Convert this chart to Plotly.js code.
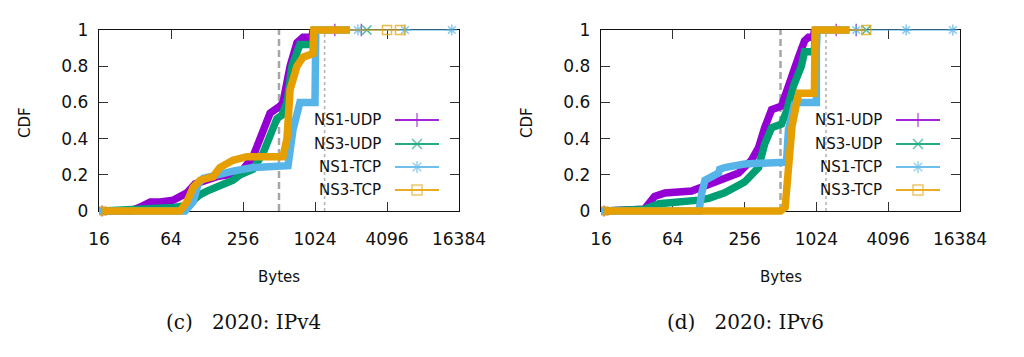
<!DOCTYPE html>
<html><head><meta charset="utf-8">
<script src="https://cdn.plot.ly/plotly-3.0.1.min.js"></script>
<style>html,body{margin:0;padding:0;background:#fff}#chart{width:1024px;height:357px}</style>
</head><body><div id="chart"></div>
<script>
// ---------- data ----------
const seriesNames = ['NS1-UDP', 'NS3-UDP', 'NS1-TCP', 'NS3-TCP'];
const tickVals = [16, 64, 256, 1024, 4096, 16384];
const tickText = ['16', '64', '256', '1024', '4096', '16384'];
const cdfTicks = [0, 0.2, 0.4, 0.6, 0.8, 1];
const cdfTickText = ['0', '0.2', '0.4', '0.6', '0.8', '1'];
const refDashed = 512;
const refDotted = 1232;
const panelCaptions = ['(c)\u00a0\u00a0 2020: IPv4', '(d)\u00a0\u00a0 2020: IPv6'];
const xLabel = 'Bytes';
const yLabel = 'CDF';

// 2020 IPv4
const ns1Udp4X = [17, 29, 35, 43, 52, 67, 87, 102, 155, 242, 310, 377, 431, 522, 553, 634, 724, 814, 967, 985];
const ns1Udp4Y = [0, 0, 0.02, 0.05, 0.05, 0.06, 0.1, 0.15, 0.19, 0.21, 0.3, 0.46, 0.54, 0.58, 0.6, 0.8, 0.93, 0.96, 0.96, 1];
const ns1Udp4Tail = [1500, 2500];
const ns3Udp4X = [17, 43, 67, 87, 98, 112, 128, 164, 211, 242, 310, 377, 431, 492, 542, 597, 657, 766, 985, 1000];
const ns3Udp4Y = [0, 0.01, 0.02, 0.03, 0.06, 0.09, 0.11, 0.14, 0.17, 0.2, 0.23, 0.32, 0.43, 0.51, 0.53, 0.6, 0.8, 0.92, 0.92, 1];
const ns3Udp4Tail = [2780];
const ns1Tcp4X = [16, 84, 98, 108, 119, 155, 211, 310, 609, 671, 739, 766, 1024, 1024, 1040, 2006];
const ns1Tcp4Y = [0, 0, 0.05, 0.15, 0.18, 0.2, 0.22, 0.24, 0.25, 0.45, 0.58, 0.6, 0.6, 0.86, 1, 1];
const ns1Tcp4Tail = [2340, 5790, 14260];
const ns3Tcp4X = [17, 76, 87, 98, 112, 144, 164, 211, 276, 553, 597, 634, 724, 814, 985, 1000, 2006];
const ns3Tcp4Y = [0, 0, 0.05, 0.13, 0.17, 0.19, 0.24, 0.28, 0.3, 0.3, 0.4, 0.67, 0.8, 0.85, 0.87, 1, 1];
const ns3Tcp4Tail = [4096, 5260];

// 2020 IPv6
const ns1Udp6X = [17, 30, 37, 45, 55, 92, 112, 155, 228, 292, 335, 377, 431, 522, 575, 634, 724, 814, 878, 967, 985];
const ns1Udp6Y = [0, 0, 0.01, 0.08, 0.1, 0.11, 0.13, 0.17, 0.21, 0.28, 0.35, 0.46, 0.56, 0.58, 0.65, 0.74, 0.85, 0.94, 0.96, 0.96, 1];
const ns1Udp6Tail = [1500, 2210];
const ns3Udp6X = [17, 37, 49, 92, 106, 128, 174, 256, 335, 377, 431, 522, 575, 657, 766, 814, 985, 1000];
const ns3Udp6Y = [0, 0.01, 0.04, 0.05, 0.06, 0.07, 0.1, 0.16, 0.24, 0.37, 0.46, 0.48, 0.55, 0.69, 0.8, 0.88, 0.88, 1];
const ns3Udp6Tail = [2680];
const ns1Tcp6X = [16, 106, 112, 119, 136, 155, 158, 174, 256, 575, 597, 634, 671, 724, 1024, 1024, 1040, 1940];
const ns1Tcp6Y = [0, 0, 0.1, 0.17, 0.19, 0.21, 0.23, 0.24, 0.26, 0.27, 0.45, 0.55, 0.59, 0.6, 0.6, 0.9, 1, 1];
const ns1Tcp6Tail = [2210, 5790, 14260];
const ns3Tcp6X = [17, 512, 560, 590, 640, 700, 730, 985, 1000, 1940];
const ns3Tcp6Y = [0, 0, 0.02, 0.25, 0.47, 0.6, 0.65, 0.65, 1, 1];
const ns3Tcp6Tail = [2680];

// ---------- styling / layout ----------
const W = 1024, H = 357;
const colors = ['#9400d3', '#009e73', '#56b4e9', '#e69f00'];
const symbols = ['cross-thin', 'x-thin', 'asterisk', 'square-open'];
const plotTop = 30, plotBot = 211, pad = 8;
const panels = [
  {fx: 'x', fy: 'y', ya: 'y3', left: 99, right: 459, cdfX: 25, capX: 243,
   series: [[ns1Udp4X, ns1Udp4Y, ns1Udp4Tail], [ns3Udp4X, ns3Udp4Y, ns3Udp4Tail], [ns1Tcp4X, ns1Tcp4Y, ns1Tcp4Tail], [ns3Tcp4X, ns3Tcp4Y, ns3Tcp4Tail]]},
  {fx: 'x2', fy: 'y2', ya: 'y4', left: 601, right: 960, cdfX: 527, capX: 745,
   series: [[ns1Udp6X, ns1Udp6Y, ns1Udp6Tail], [ns3Udp6X, ns3Udp6Y, ns3Udp6Tail], [ns1Tcp6X, ns1Tcp6Y, ns1Tcp6Tail], [ns3Tcp6X, ns3Tcp6Y, ns3Tcp6Tail]]}
];
const legendRows = [120, 144, 167, 190];

const traces = [];
const annotations = [];
panels.forEach((p, pi) => {
  const yr = [cdfTicks[0], cdfTicks[cdfTicks.length - 1]];
  // reference lines live on the frame subplot (this also creates the framed axes)
  traces.push({x: [refDashed, refDashed], y: yr, xaxis: p.fx, yaxis: p.fy, mode: 'lines',
    line: {color: '#a6a6a6', width: 2.5, dash: '7px,4px'}, showlegend: false, hoverinfo: 'skip'});
  traces.push({x: [refDotted, refDotted], y: yr, xaxis: p.fx, yaxis: p.fy, mode: 'lines',
    line: {color: '#b4b4b4', width: 1.6, dash: 'dot'}, showlegend: false, hoverinfo: 'skip'});
  p.series.forEach((s, si) => {
    const [xs, ys, tail] = s;
    traces.push({x: xs, y: ys, xaxis: p.fx, yaxis: p.ya, mode: 'lines+markers', name: seriesNames[si],
      line: {color: colors[si], width: 7.5},
      marker: {symbol: symbols[si], color: colors[si], size: xs.map((v, i) => i === 0 ? 8 : 0),
               line: {color: colors[si], width: 1.5}},
      showlegend: false});
    const tx = [xs[xs.length - 1]].concat(tail);
    traces.push({x: tx, y: tx.map(() => 1), xaxis: p.fx, yaxis: p.ya, mode: 'lines+markers',
      line: {color: colors[si], width: 1.2},
      marker: {symbol: symbols[si], color: colors[si], size: tx.map((v, i) => i === 0 ? 0 : 9),
               line: {color: colors[si], width: 1.5}},
      showlegend: false, cliponaxis: false});
    // legend sample (gnuplot style: text then sample)
    const lx0 = p.right - 64, lx1 = p.right - 20, row = legendRows[si];
    traces.push({x: [lx0, (lx0 + lx1) / 2, lx1], y: [row, row, row], xaxis: 'x5', yaxis: 'y5',
      mode: 'lines+markers', line: {color: colors[si], width: 1.8},
      marker: {symbol: symbols[si], color: colors[si], size: [0, 10, 0], line: {color: colors[si], width: 1.5}},
      showlegend: false, opacity: 0.85});
    annotations.push({xref: 'paper', yref: 'paper', x: (lx0 - 12) / W, y: 1 - row / H,
      xanchor: 'right', yanchor: 'middle', showarrow: false, text: seriesNames[si],
      font: {family: 'DejaVu Sans', size: 15, color: '#111'}});
  });
  annotations.push({xref: 'paper', yref: 'paper', x: p.cdfX / W, y: 1 - 123 / H, textangle: -90,
    xanchor: 'center', yanchor: 'middle', showarrow: false, text: yLabel,
    font: {family: 'DejaVu Sans', size: 15, color: '#111'}});
  annotations.push({xref: 'paper', yref: 'paper', x: ((p.left + p.right) / 2) / W, y: 1 - 277 / H,
    xanchor: 'center', yanchor: 'middle', showarrow: false, text: xLabel,
    font: {family: 'DejaVu Sans', size: 15, color: '#111'}});
  annotations.push({xref: 'paper', yref: 'paper', x: p.capX / W, y: 1 - 322 / H,
    xanchor: 'center', yanchor: 'middle', showarrow: false, text: panelCaptions[pi],
    font: {family: 'DejaVu Serif', size: 20, color: '#111'}});
});

const frameY = [(H - plotBot) / H, (H - plotTop) / H];
const dataY = [(H - plotBot - pad) / H, (H - plotTop + pad) / H];
const span = plotBot - plotTop;
const dataRange = [-pad / span, 1 + pad / span];
const xRange = [Math.log10(16), Math.log10(16384)];

function xAxis(p, anchor) {
  return {domain: [p.left / W, p.right / W], type: 'log', range: xRange, anchor: anchor,
    tickmode: 'array', tickvals: tickVals, ticktext: tickText, ticks: 'inside', ticklen: 9,
    tickcolor: '#333', tickwidth: 1, showline: true, linecolor: '#111', linewidth: 1.2, mirror: 'ticks',
    showgrid: false, zeroline: false, ticklabelstandoff: 12,
    tickfont: {family: 'DejaVu Sans', size: 17, color: '#111'}, fixedrange: true};
}
function yAxis(anchor) {
  return {domain: frameY, range: [0, 1], anchor: anchor, tickmode: 'array', tickvals: cdfTicks,
    ticktext: cdfTickText, ticks: 'inside', ticklen: 9, tickcolor: '#333', tickwidth: 1,
    showline: true, linecolor: '#111', linewidth: 1.2, mirror: 'ticks', showgrid: false, zeroline: false,
    ticklabelstandoff: 6, tickfont: {family: 'DejaVu Sans', size: 17, color: '#111'}, fixedrange: true};
}
const hidden = (extra) => Object.assign({visible: false, showgrid: false, zeroline: false, fixedrange: true}, extra);

const layout = {
  width: W, height: H, margin: {l: 0, r: 0, t: 0, b: 0, pad: 0},
  paper_bgcolor: '#fff', plot_bgcolor: 'rgba(0,0,0,0)', showlegend: false,
  xaxis: xAxis(panels[0], 'y'), yaxis: yAxis('x'),
  xaxis2: xAxis(panels[1], 'y2'), yaxis2: yAxis('x2'),
  yaxis3: hidden({domain: dataY, range: dataRange, anchor: 'x'}),
  yaxis4: hidden({domain: dataY, range: dataRange, anchor: 'x2'}),
  xaxis5: hidden({domain: [0, 1], range: [0, W], anchor: 'y5'}),
  yaxis5: hidden({domain: [0, 1], range: [H, 0], anchor: 'x5'}),
  annotations: annotations
};
Plotly.newPlot('chart', traces, layout, {staticPlot: true, displayModeBar: false});
</script></body></html>
